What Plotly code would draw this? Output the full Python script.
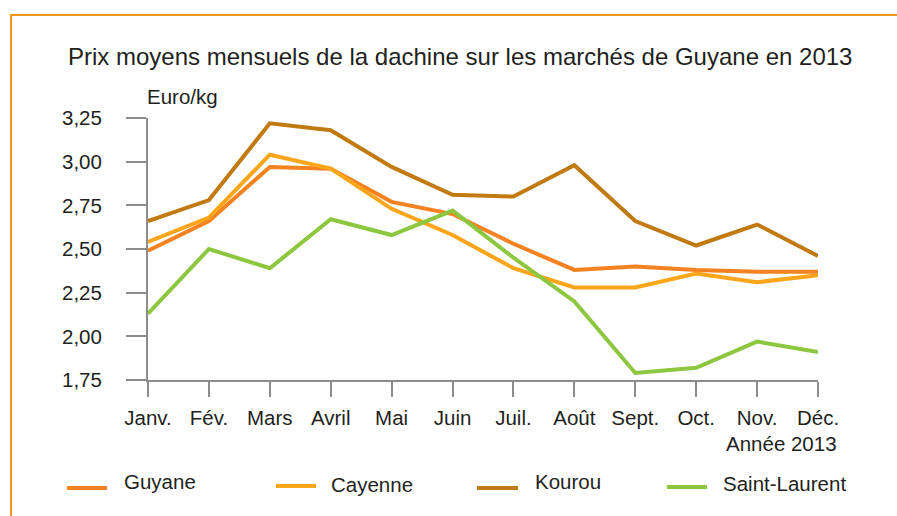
import plotly.graph_objects as go

months = ["Janv.", "Fév.", "Mars", "Avril", "Mai", "Juin", "Juil.", "Août", "Sept.", "Oct.", "Nov.", "Déc."]
series_names = ["Guyane", "Cayenne", "Kourou", "Saint-Laurent"]
guyane = [2.49, 2.66, 2.97, 2.96, 2.77, 2.70, 2.53, 2.38, 2.40, 2.38, 2.37, 2.37]
cayenne = [2.54, 2.68, 3.04, 2.96, 2.73, 2.58, 2.39, 2.28, 2.28, 2.36, 2.31, 2.35]
kourou = [2.66, 2.78, 3.22, 3.18, 2.97, 2.81, 2.80, 2.98, 2.66, 2.52, 2.64, 2.46]
saint_laurent = [2.13, 2.50, 2.39, 2.67, 2.58, 2.72, 2.45, 2.20, 1.79, 1.82, 1.97, 1.91]
y_ticks = [1.75, 2.00, 2.25, 2.50, 2.75, 3.00, 3.25]
y_tick_labels = ["1,75", "2,00", "2,25", "2,50", "2,75", "3,00", "3,25"]

colors = ["#F58220", "#FBA51B", "#C17A12", "#8DC63F"]
values = [guyane, cayenne, kourou, saint_laurent]

FONT = "Liberation Sans, Arial, sans-serif"
TXT = "#231F20"

# plot area in pixels
L, R, T, B = 148, 818, 118, 380
W, H = R - L, B - T


def px(x):
    return (x - L) / W


def py(y):
    return (B - y) / H


fig = go.Figure()
for name, vals, col in zip(series_names, values, colors):
    fig.add_trace(go.Scatter(
        x=list(range(len(months))), y=vals, mode="lines", name=name,
        line=dict(color=col, width=4), showlegend=False,
    ))

shapes = []
annotations = []

# orange frame (left and top)
shapes.append(dict(type="line", xref="paper", yref="paper",
                   x0=px(11), x1=px(11), y0=py(15), y1=py(530),
                   line=dict(color="#F7941D", width=2)))
shapes.append(dict(type="line", xref="paper", yref="paper",
                   x0=px(10), x1=px(910), y0=py(15), y1=py(15),
                   line=dict(color="#F7941D", width=2)))

# legend
leg_line = [(67, 107, 488), (276, 316, 486), (477, 518, 488), (667, 707, 487)]
leg_text = [(123, 482), (330, 484), (534, 482), (722, 483)]
for name, col, (x0, x1, yl), (xt, yt) in zip(series_names, colors, leg_line, leg_text):
    shapes.append(dict(type="line", xref="paper", yref="paper",
                       x0=px(x0), x1=px(x1), y0=py(yl), y1=py(yl),
                       line=dict(color=col, width=4)))
    annotations.append(dict(text=name, xref="paper", yref="paper",
                            x=px(xt - 1), y=py(yt), xanchor="left", yanchor="middle",
                            showarrow=False, font=dict(family=FONT, size=20.5, color=TXT)))

annotations.append(dict(text="Prix moyens mensuels de la dachine sur les marchés de Guyane en 2013",
                        xref="paper", yref="paper", x=px(66), y=py(57),
                        xanchor="left", yanchor="middle", showarrow=False,
                        font=dict(family=FONT, size=24, color=TXT)))
annotations.append(dict(text="Euro/kg", xref="paper", yref="paper", x=px(145), y=py(97),
                        xanchor="left", yanchor="middle", showarrow=False,
                        font=dict(family=FONT, size=20.5, color=TXT)))
annotations.append(dict(text="Année 2013", xref="paper", yref="paper", x=px(839), y=py(443),
                        xanchor="right", yanchor="middle", showarrow=False,
                        font=dict(family=FONT, size=20.5, color=TXT)))

fig.update_layout(
    width=897, height=516,
    margin=dict(l=L, r=897 - R, t=T, b=516 - B, pad=0),
    paper_bgcolor="white", plot_bgcolor="white",
    shapes=shapes, annotations=annotations,
    font=dict(family=FONT, size=20.5, color=TXT),
    xaxis=dict(
        range=[0, 11], tickvals=list(range(len(months))), ticktext=months,
        showgrid=False, zeroline=False, showline=True, linecolor="#8C8C8C", linewidth=2,
        ticks="outside", ticklen=15, tickwidth=1.5, tickcolor="#8C8C8C",
        ticklabelstandoff=3, tickfont=dict(family=FONT, size=20.5, color=TXT),
    ),
    yaxis=dict(
        range=[1.75, 3.25], tickvals=y_ticks, ticktext=y_tick_labels,
        showgrid=False, zeroline=False, showline=True, linecolor="#8C8C8C", linewidth=2,
        ticks="outside", ticklen=20, tickwidth=1.5, tickcolor="#8C8C8C",
        ticklabelstandoff=20, tickfont=dict(family=FONT, size=20.5, color=TXT),
    ),
)

fig.write_html("out.html", config={"displayModeBar": False},
               post_script="document.body.style.margin='0';document.body.style.overflow='hidden';")
